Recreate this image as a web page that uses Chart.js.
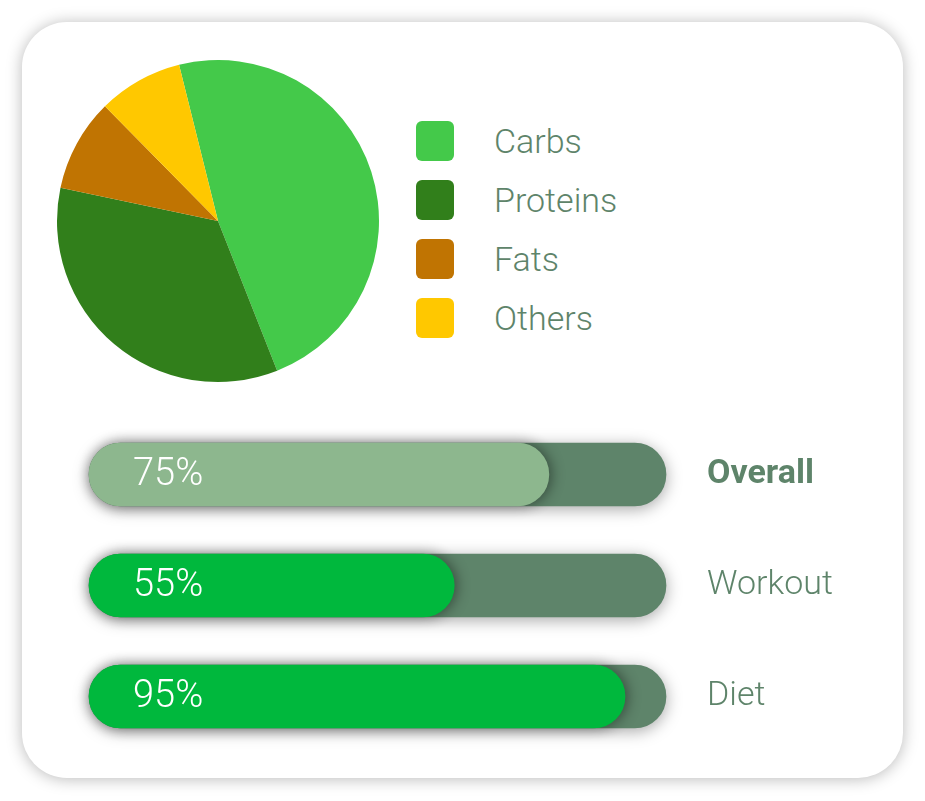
<!DOCTYPE html>
<html>
<head>
<meta charset="utf-8">
<script src="https://cdn.jsdelivr.net/npm/chart.js@4/dist/chart.umd.min.js"></script>
<style>
  html, body { margin: 0; padding: 0; background: #ffffff; }
  body { width: 925px; height: 801px; position: relative; overflow: hidden; font-family: Roboto, sans-serif; }
  #card { position: absolute; left: 22px; top: 22px; width: 881px; height: 756px; background: #fff;
          border-radius: 45px; box-shadow: 0 1px 16px rgba(0,0,0,0.28); }
  #pieWrap { position: absolute; left: 47px; top: 50px; width: 342px; height: 342px; }
  #barWrap { position: absolute; left: 22px; top: 402px; width: 881px; height: 370px; }
  #legend { position: absolute; left: 416px; top: 111px; margin: 0; padding: 0; list-style: none; }
  #legend li { height: 59px; display: flex; align-items: center; position: relative; }
  #legend .box { width: 38px; height: 40px; border-radius: 6px; flex: none; }
  #legend .txt { margin-left: 40px; font-size: 34px; font-weight: 300; color: #5e846a; line-height: 40px; }
</style>
</head>
<body>
<div id="card"></div>
<div id="pieWrap"><canvas id="pie" width="342" height="342"></canvas></div>
<ul id="legend"></ul>
<div id="barWrap"><canvas id="bars" width="881" height="370"></canvas></div>
<script>
// ---- data ----
const nutrientLabels = ['Carbs', 'Proteins', 'Fats', 'Others'];
const nutrientShares = [47.9, 34.3, 9.3, 8.5];
const nutrientColors = ['#44c94a', '#317f1b', '#c07402', '#ffc800'];

const goalLabels = ['Overall', 'Workout', 'Diet'];
const goalPercentText = ['75%', '55%', '95%'];
const goalFill = [79.7, 63.3, 92.9];
const goalTrack = [100, 100, 100];
const goalFillColors = ['#8db78e', '#00b83d', '#00b83d'];
const trackColor = '#5e846a';
const textColor = '#5e846a';

// ---- legend (HTML, from data) ----
const legendEl = document.getElementById('legend');
nutrientLabels.forEach((lab, i) => {
  const li = document.createElement('li');
  const b = document.createElement('span'); b.className = 'box'; b.style.background = nutrientColors[i];
  const t = document.createElement('span'); t.className = 'txt'; t.textContent = lab;
  li.appendChild(b); li.appendChild(t); legendEl.appendChild(li);
});

// ---- pie ----
new Chart(document.getElementById('pie'), {
  type: 'pie',
  data: {
    labels: nutrientLabels,
    datasets: [{ data: nutrientShares, backgroundColor: nutrientColors, borderWidth: 0, hoverOffset: 0 }]
  },
  options: {
    responsive: false, animation: false, rotation: -14,
    layout: { padding: 10 },
    plugins: { legend: { display: false }, tooltip: { enabled: false } }
  }
});

// ---- progress bars ----
const shadowPlugin = {
  id: 'barShadow',
  beforeDatasetDraw(chart, args) {
    const ctx = chart.ctx;
    ctx.save();
    if (args.index === 1) {
      ctx.shadowColor = 'rgba(0,0,0,0.35)'; ctx.shadowBlur = 16; ctx.shadowOffsetX = 0; ctx.shadowOffsetY = 3;
    } else {
      ctx.shadowColor = 'rgba(0,0,0,0.45)'; ctx.shadowBlur = 14; ctx.shadowOffsetX = 2; ctx.shadowOffsetY = 0;
    }
  },
  afterDatasetDraw(chart) { chart.ctx.restore(); }
};
const pctPlugin = {
  id: 'pctText',
  afterDatasetsDraw(chart) {
    const ctx = chart.ctx;
    const meta = chart.getDatasetMeta(0);
    ctx.save();
    ctx.fillStyle = '#ffffff';
    ctx.font = '300 38px Roboto';
    ctx.textAlign = 'left';
    ctx.textBaseline = 'middle';
    meta.data.forEach((bar, i) => {
      ctx.fillText(goalPercentText[i], chart.scales.x.getPixelForValue(0) + 44, bar.y + 1);
    });
    ctx.restore();
  }
};

new Chart(document.getElementById('bars'), {
  type: 'bar',
  data: {
    labels: goalLabels,
    datasets: [
      { label: 'Progress', data: goalFill, backgroundColor: goalFillColors, borderRadius: 32, borderSkipped: false,
        barThickness: 63, grouped: false, order: 0, clip: false },
      { label: 'Track', data: goalTrack, backgroundColor: trackColor, borderRadius: 32, borderSkipped: false,
        barThickness: 63, grouped: false, order: 1, clip: false }
    ]
  },
  options: {
    indexAxis: 'y', responsive: false, animation: false,
    layout: { padding: { left: 67, right: 0, top: 17, bottom: 20 } },
    scales: {
      x: { display: false, min: 0, max: 100 },
      y: {
        position: 'right',
        grid: { display: false, drawTicks: false },
        border: { display: false },
        ticks: {
          padding: 41, color: textColor,
          font: (c) => ({ family: 'Roboto', size: 34, weight: c.index === 0 ? 'bold' : '300' })
        },
        afterFit(axis) { axis.width = 237; axis.paddingTop = 0; axis.paddingBottom = 0; }
      }
    },
    plugins: { legend: { display: false }, tooltip: { enabled: false } }
  },
  plugins: [shadowPlugin, pctPlugin]
});
</script>
</body>
</html>
